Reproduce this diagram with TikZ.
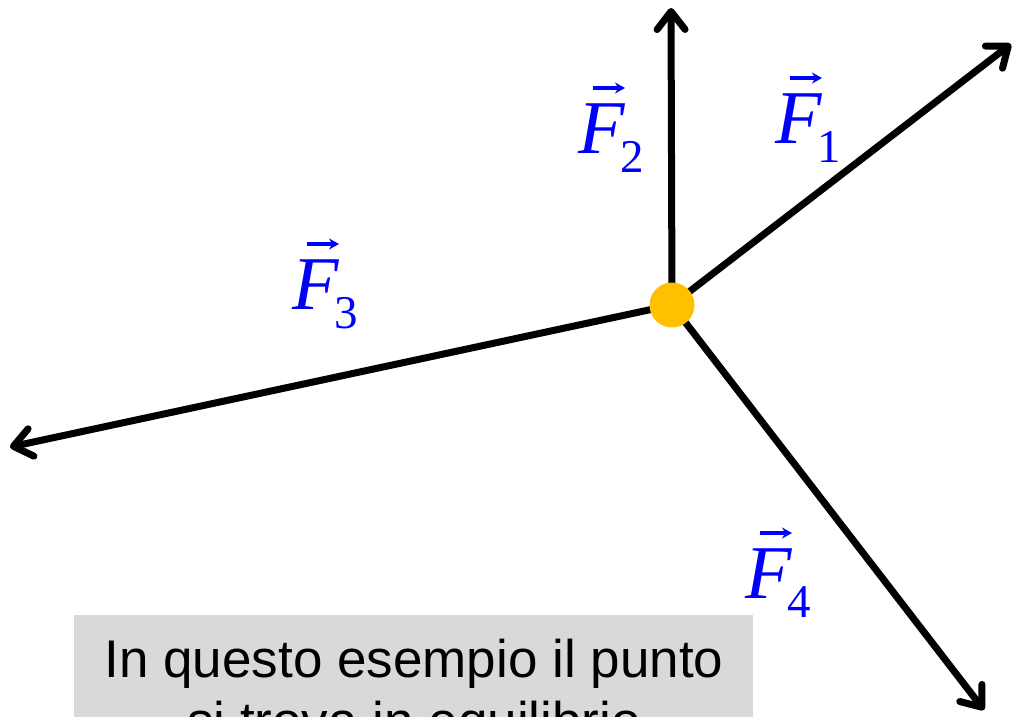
\documentclass[tikz,border=0pt]{standalone}
\usepackage{fontspec}
\setmainfont{Liberation Serif}
\newfontfamily\boxfont{Liberation Sans}
\usetikzlibrary{arrows.meta}
\definecolor{dotorange}{HTML}{FFC000}
\definecolor{boxgray}{HTML}{D9D9D9}
\definecolor{vecblue}{HTML}{0000FF}
\tikzset{
  force/.style={line width=7pt, -{Straight Barb[length=18pt,width=28pt,round]}},
  flabel/.style={anchor=base west, inner sep=0pt, text=vecblue, font=\fontsize{76}{76}\selectfont\itshape},
  fsub/.style={anchor=base west, inner sep=0pt, text=vecblue, font=\fontsize{47}{47}\selectfont},
  vecarrow/.style={draw=vecblue, line width=3.2pt, -{Stealth[length=10pt,width=11pt]}},
  boxtext/.style={anchor=base, inner sep=0pt, font=\boxfont\fontsize{53}{53}\selectfont}
}
\begin{document}
\begin{tikzpicture}[x=1pt,y=-1pt]
\useasboundingbox (0,0) rectangle (1015,716);
% grey box
\fill[boxgray] (74,615) rectangle (753,790);
\node[boxtext] (l1) at (414,677) {In questo esempio il punto};
\node[boxtext] (l2) at (414,739) {si trova in equilibrio};
% forces
\coordinate (c) at (672,305);
\coordinate (t1) at (1011,44);
\coordinate (t2) at (671,8);
\coordinate (t3) at (10,447);
\coordinate (t4) at (984,710);
\draw[force] (c) -- (t1);
\draw[force] (c) -- (t2);
\draw[force] (c) -- (t3);
\draw[force] (c) -- (t4);
\node[circle, fill=dotorange, minimum size=45pt, inner sep=0pt] (O) at (c) {};
% labels
\foreach \n/\x/\y in {1/775/143, 2/578/153, 3/292/309, 4/745/598}{
  \node[flabel] (F\n) at (\x,\y) {F};
  \node[fsub] (s\n) at ([shift={(42,19)}]F\n.base west) {\n};
  \draw[vecarrow] ([shift={(15,-65)}]F\n.base west) -- ([shift={(47,-65)}]F\n.base west);
}
\end{tikzpicture}
\end{document}
